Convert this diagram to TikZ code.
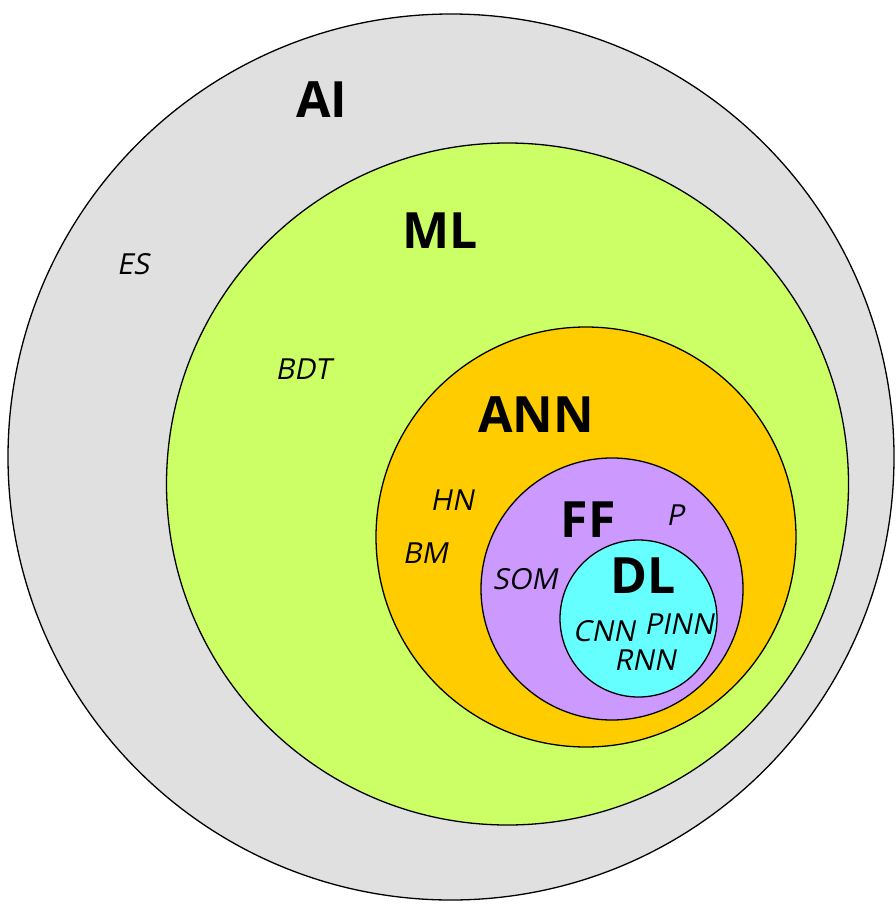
\documentclass[tikz,border=0pt]{standalone}
\usepackage{fontspec}
\setmainfont{Open Sans}
\newfontfamily\labfont[FakeSlant=0.2]{Open Sans}
\definecolor{cAI}{HTML}{E0E0E0}
\definecolor{cML}{HTML}{CCFF66}
\definecolor{cANN}{HTML}{FFCC00}
\definecolor{cFF}{HTML}{CC99FF}
\definecolor{cDL}{HTML}{66FFFF}
\tikzset{
  setc/.style={circle, draw=black, line width=1.3pt, inner sep=0pt, minimum size=#1},
  big/.style={inner sep=0pt, font=\fontsize{50}{50}\selectfont\bfseries},
  small/.style={inner sep=0pt, font=\fontsize{29}{29}\selectfont\labfont},
}
\begin{document}
\begin{tikzpicture}[x=1pt,y=-1pt]
\useasboundingbox (0,0) rectangle (895,904);
\node[setc=886pt, fill=cAI] (ai) at (451,457) {};
\node[setc=682pt, fill=cML] (ml) at (507.5,484) {};
\node[setc=420pt, fill=cANN] (ann) at (586,537) {};
\node[setc=262pt, fill=cFF] (ff) at (612,589) {};
\node[setc=157pt, fill=cDL] (dl) at (638.5,618.5) {};
\node[big] (tAI) at (322,100) {AI};
\node[big] (tML) at (440,231) {ML};
\node[big] (tANN) at (536,415) {ANN};
\node[big] (tFF) at (588,520) {FF};
\node[big] (tDL) at (643,576) {DL};
\node[small] (tES) at (133,264) {ES};
\node[small] (tBDT) at (303,369) {BDT};
\node[small] (tHN) at (452,500) {HN};
\node[small] (tBM) at (425,553) {BM};
\node[small] (tSOM) at (525,579) {SOM};
\node[small] (tP) at (675,515) {P};
\node[small] (tCNN) at (604,631) {CNN};
\node[small] (tPINN) at (679,624) {PINN};
\node[small] (tRNN) at (645,660) {RNN};
\end{tikzpicture}
\end{document}
